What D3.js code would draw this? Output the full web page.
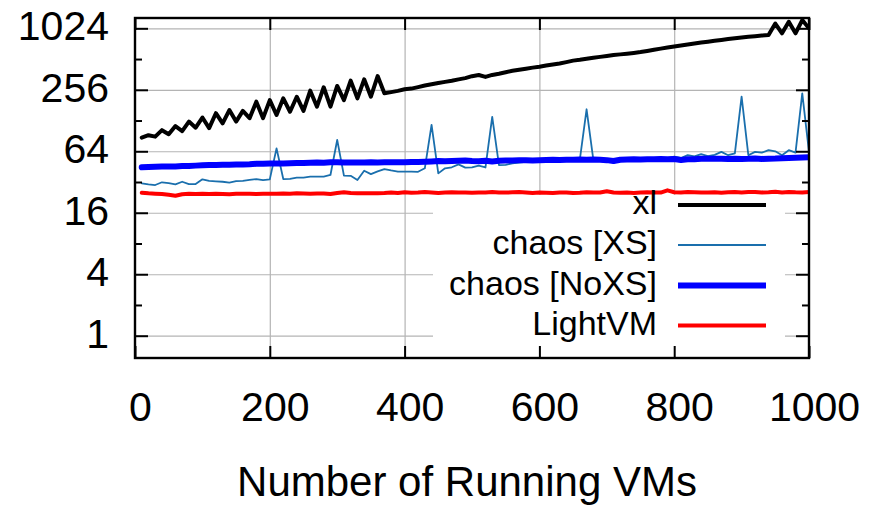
<!DOCTYPE html>
<html>
<head>
<meta charset="utf-8">
<script src="https://cdn.jsdelivr.net/npm/d3@7"></script>
<style>
  html, body { margin: 0; padding: 0; background: #fff; }
  svg { display: block; font-family: "Liberation Sans", Arial, Helvetica, sans-serif; }
</style>
</head>
<body>
<svg id="chart" width="869" height="505"></svg>
<script>
// ---------------- data ----------------
const vmCounts = [10,20,30,40,50,60,70,80,90,100,110,120,130,140,150,160,170,180,190,200,
  210,220,230,240,250,260,270,280,290,300,310,320,330,340,350,360,370,380,390,400,
  410,420,430,440,450,460,470,480,490,500,510,520,530,540,550,560,570,580,590,600,
  610,620,630,640,650,660,670,680,690,700,710,720,730,740,750,760,770,780,790,800,
  810,820,830,840,850,860,870,880,890,900,910,920,930,940,950,960,970,980,990,1000];

const xlValues = [87,92,89,103,94,113,101,125,109,137,108,151,120,162,125,159,135,196,135,203,
  145,211,156,219,159,251,175,271,175,279,203,315,211,324,219,349,237,243,250,259,
  263,272,282,290,298,306,314,324,333,348,357,342,358,368,380,393,403,412,422,431,
  442,452,463,478,494,503,515,526,538,549,560,569,578,588,600,615,632,648,663,680,
  695,710,726,742,757,773,788,803,818,832,845,857,869,880,1140,915,1187,915,1234,1024];

const chaosXsValues = [31.1,30.4,29.9,31.8,31.2,30.4,32.2,30.5,30.6,34.0,32.8,32.5,32.2,31.6,32.6,32.8,33.5,34.2,33.4,34.0,
  68.4,34.2,34.3,35.3,35.4,36.1,36.1,36.2,37.5,82.6,37.0,36.8,33.5,41.3,38.2,40.6,42.8,41.5,40.4,40.4,
  40.5,40.3,43.6,116,38.9,43.6,44.6,47.6,44.3,44.6,46.2,44.4,139,46.9,47.2,48.8,49.5,50.5,51.0,51.5,
  52.0,52.2,52.3,52.8,52.6,53.0,165,53.0,52.8,52.6,49.5,52.7,53.0,53.3,53.0,53.8,53.6,55.0,54.8,56.6,
  55.0,58.6,57.0,59.9,57.4,59.0,63.2,58.6,61.0,219,58.6,63.2,62.0,65.6,64.0,58.6,65.6,62.0,236,63.0];

const chaosNoXsValues = [44.6,45.0,45.2,45.3,45.5,45.4,45.8,45.9,46.3,46.6,46.9,47.0,47.2,47.3,47.4,47.6,47.8,48.3,48.2,48.7,
  48.6,48.7,48.9,49.0,49.2,49.5,49.8,49.3,49.9,50.0,49.6,49.7,49.8,49.8,49.9,49.8,49.9,50.0,49.9,50.1,
  50.2,50.3,50.6,50.9,51.3,51.0,51.5,51.7,52.0,51.4,51.2,51.8,50.9,51.6,52.0,51.9,52.2,52.4,52.0,52.4,
  52.6,52.8,52.5,53.0,52.9,53.2,52.8,53.1,53.0,52.4,51.4,52.9,53.2,53.4,53.3,53.6,53.4,53.8,53.4,53.7,
  52.6,53.5,53.6,54.0,54.2,54.0,54.1,53.9,54.2,53.7,54.0,54.5,53.8,54.2,54.4,54.8,55.0,55.2,55.5,55.8];

const lightVmValues = [25.1,24.8,24.6,24.4,24.0,23.5,24.3,24.5,24.4,24.5,24.4,24.5,24.4,24.3,24.5,24.6,24.5,24.4,24.5,24.6,
  24.5,24.7,24.6,24.8,24.7,24.6,24.7,24.7,24.4,25.0,25.4,25.0,24.8,24.9,24.8,24.9,25.0,25.2,25.0,25.4,
  25.1,25.2,25.5,25.3,25.0,25.2,25.4,25.2,25.3,25.1,25.2,25.3,25.5,25.3,25.2,25.4,25.5,25.3,25.0,25.2,
  25.1,25.0,25.2,25.3,25.0,25.1,25.4,25.2,25.3,26.0,25.3,25.1,25.2,25.0,25.3,25.4,25.2,25.2,26.5,25.4,
  25.3,25.5,25.4,25.2,25.3,25.4,25.1,25.4,25.5,25.3,25.5,25.6,25.3,25.4,25.7,25.2,25.6,25.4,25.3,25.5];

const seriesNames = ["xl", "chaos [XS]", "chaos [NoXS]", "LightVM"];
const xTickValues = [0, 200, 400, 600, 800, 1000];
const yTickValues = [1, 4, 16, 64, 256, 1024];
const yMinorTickValues = [2, 8, 32, 128, 512];
const xAxisTitle = "Number of Running VMs";

// ---------------- layout / style ----------------
const L = 135, R = 809, T = 18, B = 358;
const colors = ["#000000", "#1a6fad", "#0000ff", "#ff0000"];
const widths = [4, 1.8, 6, 4];
const FONT_TICK = 41, FONT_TITLE = 42, FONT_KEY = 34;

const svg = d3.select("#chart");
const x = d3.scaleLinear().domain([0, 1000]).range([L, R]);
const y = d3.scaleLog().base(2).domain([0.605, 1292]).range([B, T]);

// grid
const grid = svg.append("g");
grid.append("g").attr("transform", `translate(0,${B})`)
  .call(d3.axisBottom(x).tickValues(xTickValues.filter(v => v > 0 && v < 1000)).tickSize(-(B - T)).tickFormat(""))
  .call(g => g.select(".domain").remove());
grid.append("g").attr("transform", `translate(${L},0)`)
  .call(d3.axisLeft(y).tickValues(yTickValues).tickSize(-(R - L)).tickFormat(""))
  .call(g => g.select(".domain").remove());
grid.selectAll(".tick line").attr("stroke", "#b4b4b4").attr("stroke-width", 1.2);

// legend background (opaque key)
svg.append("rect").attr("x", 433).attr("y", 195).attr("width", 785 - 433).attr("height", B - 195)
  .attr("fill", "#fff");

// data (drawn in series order: later series on top)
svg.append("clipPath").attr("id", "clip").append("rect")
  .attr("x", L).attr("y", T).attr("width", R - L).attr("height", B - T);
const seriesData = [xlValues, chaosXsValues, chaosNoXsValues, lightVmValues];
const line = d3.line().x((d, i) => x(vmCounts[i])).y(d => y(d));
const plotG = svg.append("g").attr("clip-path", "url(#clip)");
[0, 1, 2, 3].forEach(k => {
  plotG.append("path").datum(seriesData[k])
    .attr("d", line)
    .attr("fill", "none")
    .attr("stroke", colors[k])
    .attr("stroke-width", widths[k])
    .attr("stroke-linejoin", "round")
    .attr("stroke-linecap", "round");
});

// axes (ticks inward on all sides)
const axes = svg.append("g");
const xb = axes.append("g").attr("transform", `translate(0,${B})`)
  .call(d3.axisBottom(x).tickValues(xTickValues).tickSize(-12).tickFormat(d3.format("d")));
xb.selectAll("text").attr("y", 62.7).attr("dy", 0).attr("dx", 5)
  .attr("font-size", FONT_TICK).attr("fill", "#000").attr("font-family", null);
axes.append("g").attr("transform", `translate(0,${T})`)
  .call(d3.axisTop(x).tickValues(xTickValues).tickSize(-12).tickFormat(""));
const yl = axes.append("g").attr("transform", `translate(${L},0)`)
  .call(d3.axisLeft(y).tickValues(yTickValues).tickSize(-13).tickFormat(d3.format("d")));
yl.selectAll("text").attr("x", -26).attr("dy", 11.5)
  .attr("font-size", FONT_TICK).attr("fill", "#000").attr("font-family", null);
axes.append("g").attr("transform", `translate(${L},0)`)
  .call(d3.axisLeft(y).tickValues(yMinorTickValues).tickSize(-7).tickFormat(""));
axes.append("g").attr("transform", `translate(${R},0)`)
  .call(d3.axisRight(y).tickValues(yTickValues).tickSize(-13).tickFormat(""));
axes.append("g").attr("transform", `translate(${R},0)`)
  .call(d3.axisRight(y).tickValues(yMinorTickValues).tickSize(-7).tickFormat(""));
axes.selectAll(".domain").remove();
axes.selectAll(".tick line").attr("stroke", "#000").attr("stroke-width", 2);

// frame
svg.append("rect").attr("x", L).attr("y", T).attr("width", R - L).attr("height", B - T)
  .attr("fill", "none").attr("stroke", "#000").attr("stroke-width", 2.4);

// axis title
svg.append("text").attr("x", 467).attr("y", 495.5).attr("text-anchor", "middle")
  .attr("font-size", FONT_TITLE).attr("fill", "#000").text(xAxisTitle);

// legend
const keyRowY = [205, 245, 285.5, 325.5];
const key = svg.append("g");
seriesNames.forEach((name, k) => {
  key.append("text").attr("x", 657).attr("y", keyRowY[k] + 9).attr("text-anchor", "end")
    .attr("font-size", FONT_KEY).attr("fill", "#000").text(name);
  key.append("line").attr("x1", 678).attr("x2", 766).attr("y1", keyRowY[k]).attr("y2", keyRowY[k])
    .attr("stroke", colors[k]).attr("stroke-width", widths[k]);
});
</script>
</body>
</html>
